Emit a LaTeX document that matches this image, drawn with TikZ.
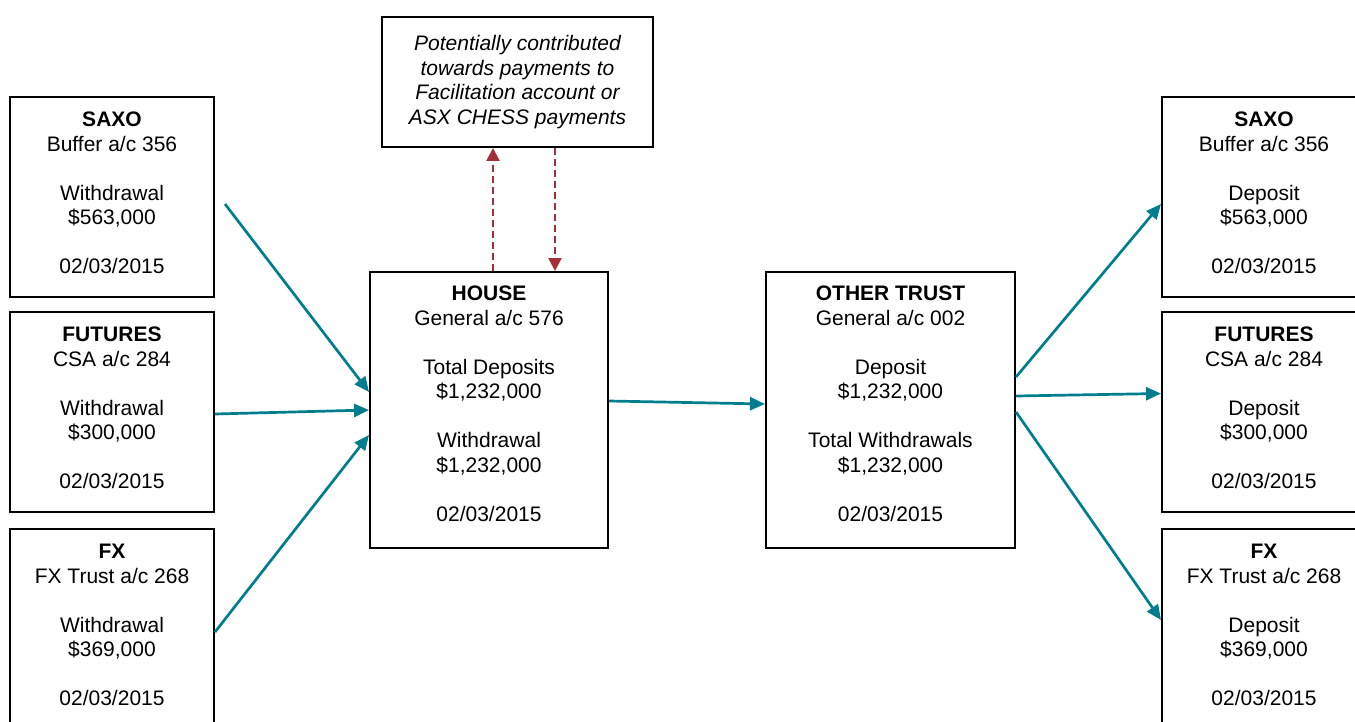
\documentclass[tikz,border=0pt]{standalone}
\usepackage{fontspec}
\setmainfont{Liberation Sans}
\usetikzlibrary{positioning, arrows.meta}
\definecolor{flowteal}{RGB}{0,126,142}
\definecolor{cashred}{RGB}{163,48,56}

\begin{document}
\begin{tikzpicture}[font=\fontsize{10.5}{12.25}\selectfont,
	acct/.style = {draw, line width=1pt, align=center, minimum width=102pt, minimum height=100pt, inner sep=0pt, text depth=4pt},
	flow/.style = {-{Triangle[length=7.5pt, width=6.5pt]}, line width=1.35pt, color=flowteal},
	cash/.style = {-{Triangle[length=6.5pt, width=6.5pt]}, line width=1.3pt, dash pattern=on 3.5pt off 2pt, color=cashred}]
		\useasboundingbox (0,0) rectangle (677.5pt,-361pt);
		% the two general accounts in the middle
		\node[acct, minimum width=119pt, minimum height=138pt, text depth=6.5pt] (H) at (244.5pt,-205pt) {\textbf{HOUSE}\\General a/c 576\\[12.25pt]Total Deposits\\\$1,232,000\\[12.25pt]Withdrawal\\\$1,232,000\\[12.25pt]02/03/2015};
		\node[acct, minimum width=124.5pt, minimum height=138pt, text depth=6.5pt] (T) [right=78pt of H] {\textbf{OTHER TRUST}\\General a/c 002\\[12.25pt]Deposit\\\$1,232,000\\[12.25pt]Total Withdrawals\\\$1,232,000\\[12.25pt]02/03/2015};
		\node[draw, line width=1pt, align=center, minimum width=135.5pt, minimum height=65pt, font=\fontsize{10.5}{12.25}\selectfont\itshape] (N) at (258.75pt,-41pt) {Potentially contributed\\towards payments to\\Facilitation account or\\ASX CHESS payments};
		
		% withdrawals on the left
		\node[acct] (SL) at (56pt,-98.5pt) {\textbf{SAXO}\\Buffer a/c 356\\[12.25pt]Withdrawal\\\$563,000\\[12.25pt]02/03/2015};
		\node[acct] (FL) [below=6.5pt of SL] {\textbf{FUTURES}\\CSA a/c 284\\[12.25pt]Withdrawal\\\$300,000\\[12.25pt]02/03/2015};
		\node[acct] (XL) [below=7.5pt of FL] {\textbf{FX}\\FX Trust a/c 268\\[12.25pt]Withdrawal\\\$369,000\\[12.25pt]02/03/2015};
		
		% deposits on the right
		\node[acct] (SR) at (632pt,-98.5pt) {\textbf{SAXO}\\Buffer a/c 356\\[12.25pt]Deposit\\\$563,000\\[12.25pt]02/03/2015};
		\node[acct] (FR) [below=6.5pt of SR] {\textbf{FUTURES}\\CSA a/c 284\\[12.25pt]Deposit\\\$300,000\\[12.25pt]02/03/2015};
		\node[acct] (XR) [below=7.5pt of FR] {\textbf{FX}\\FX Trust a/c 268\\[12.25pt]Deposit\\\$369,000\\[12.25pt]02/03/2015};
		
		\draw[flow] ([xshift=5pt, yshift=-3.5pt]SL.east) -- ([yshift=9pt]H.west);
		\draw[flow] ([yshift=-1pt]FL.east) -- (H.west);
		\draw[flow] ([yshift=-1.5pt]XL.east) -- ([yshift=-12.5pt]H.west);
		\draw[flow] ([yshift=4.5pt]H.east) -- ([yshift=3pt]T.west);
		\draw[flow] ([yshift=16.5pt]T.east) -- ([yshift=-3.5pt]SR.west);
		\draw[flow] ([yshift=7pt]T.east) -- ([yshift=9.25pt]FR.west);
		\draw[flow] ([yshift=-1pt]T.east) -- ([yshift=4.5pt]XR.west);
		
		% dashed links to the note
		\coordinate (up) at ([xshift=2pt]H.north);
		\coordinate (down) at ([xshift=33pt]H.north);
		\draw[cash] (up) -- (up |- N.south);
		\draw[cash] (down |- N.south) -- (down);
	\end{tikzpicture}
\end{document}
